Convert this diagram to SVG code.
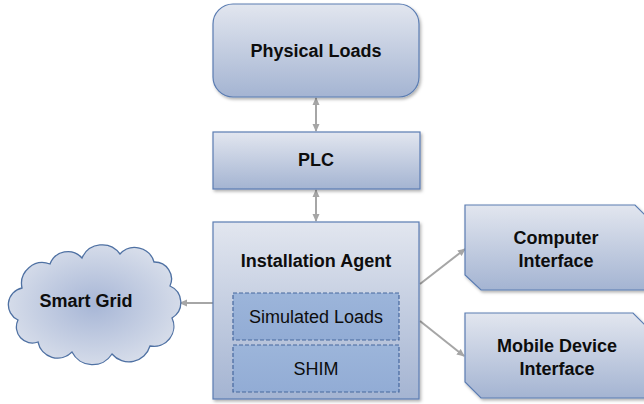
<svg xmlns="http://www.w3.org/2000/svg" width="644" height="404" viewBox="0 0 644 404">
  <defs>
    <linearGradient id="boxFill" x1="0" y1="0" x2="0" y2="1">
      <stop offset="0" stop-color="#e2e6ef"/>
      <stop offset="1" stop-color="#a4b4d2"/>
    </linearGradient>
    <linearGradient id="innerFill" x1="0" y1="0" x2="0" y2="1">
      <stop offset="0" stop-color="#9cb5da"/>
      <stop offset="1" stop-color="#92acd5"/>
    </linearGradient>
    <radialGradient id="cloudFill" cx="0.5" cy="0.5" r="0.55">
      <stop offset="0" stop-color="#a7b6d6"/>
      <stop offset="1" stop-color="#d9dfeb"/>
    </radialGradient>
    <filter id="shadow" x="-10%" y="-10%" width="125%" height="130%">
      <feDropShadow dx="1.5" dy="2" stdDeviation="1.5" flood-color="#000" flood-opacity="0.3"/>
    </filter>
    <marker id="head" viewBox="0 0 8 8" refX="7" refY="4" markerWidth="8" markerHeight="8" markerUnits="userSpaceOnUse" orient="auto-start-reverse">
      <path d="M0,0.5 L8,4 L0,7.5 Z" fill="#a6a6a6"/>
    </marker>
    <style>
      .box { fill: url(#boxFill); stroke: #5a7cb2; stroke-width: 1.2; filter: url(#shadow); }
      .inner { fill: url(#innerFill); stroke: #46689e; stroke-width: 1.2; stroke-dasharray: 4 2; }
      .cloud { fill: url(#cloudFill); stroke: #4f71a3; stroke-width: 1.3; }
      .link { fill: none; stroke: #a6a6a6; stroke-width: 2; }
      .lbl { font-family: "Liberation Sans", Arial, sans-serif; font-weight: bold; font-size: 18px; fill: #0d0d0d; text-anchor: middle; }
      .sub { font-family: "Liberation Sans", Arial, sans-serif; font-size: 18px; fill: #0d0d0d; text-anchor: middle; }
    </style>
  </defs>

  <!-- connectors -->
  <g id="connectors">
    <line class="link" x1="316" y1="98" x2="316" y2="131" marker-start="url(#head)" marker-end="url(#head)"/>
    <line class="link" x1="316" y1="190" x2="316" y2="221" marker-start="url(#head)" marker-end="url(#head)"/>
    <line class="link" x1="213" y1="303" x2="180" y2="303" marker-end="url(#head)"/>
    <line class="link" x1="420" y1="284" x2="465" y2="249" marker-end="url(#head)"/>
    <line class="link" x1="420" y1="321" x2="464" y2="356" marker-end="url(#head)"/>
  </g>

  <g id="physical-loads">
    <rect class="box" x="213" y="4" width="206" height="93" rx="20" ry="20"/>
    <text class="lbl" x="316" y="57">Physical Loads</text>
  </g>

  <g id="plc">
    <rect class="box" x="213" y="132" width="207" height="57"/>
    <text class="lbl" x="316" y="166">PLC</text>
  </g>

  <g id="installation-agent">
    <rect class="box" x="213" y="222" width="206" height="177"/>
    <text class="lbl" x="316" y="267">Installation Agent</text>
    <g id="simulated-loads">
      <rect class="inner" x="233" y="293" width="166" height="47"/>
      <text class="sub" x="316" y="323">Simulated Loads</text>
    </g>
    <g id="shim">
      <rect class="inner" x="233" y="345" width="166" height="47"/>
      <text class="sub" x="316" y="375">SHIM</text>
    </g>
  </g>

  <g id="smart-grid">
    <path class="cloud" d="M18,320 A17,17 0 0 1 22,288 A21,21 0 0 1 50,264 A19,19 0 0 1 82,258 A22,22 0 0 1 120,254 A20,20 0 0 1 154,262 A17,17 0 0 1 170,286 A18,18 0 0 1 172,318 A20,20 0 0 1 150,346 A22,22 0 0 1 112,354 A23,23 0 0 1 72,352 A20,20 0 0 1 38,342 A16,16 0 0 1 18,320 Z"/>
    <text class="lbl" x="86" y="307">Smart Grid</text>
  </g>

  <g id="computer-interface">
    <path class="box" d="M465,205 H635 L650,220 V290 H481 L465,275 Z"/>
    <text class="lbl" x="556" y="244">Computer</text>
    <text class="lbl" x="556" y="267">Interface</text>
  </g>

  <g id="mobile-device-interface">
    <path class="box" d="M465,313 H633 L650,330 V398 H481 L465,382 Z"/>
    <text class="lbl" x="557" y="352">Mobile Device</text>
    <text class="lbl" x="557" y="375">Interface</text>
  </g>
</svg>
